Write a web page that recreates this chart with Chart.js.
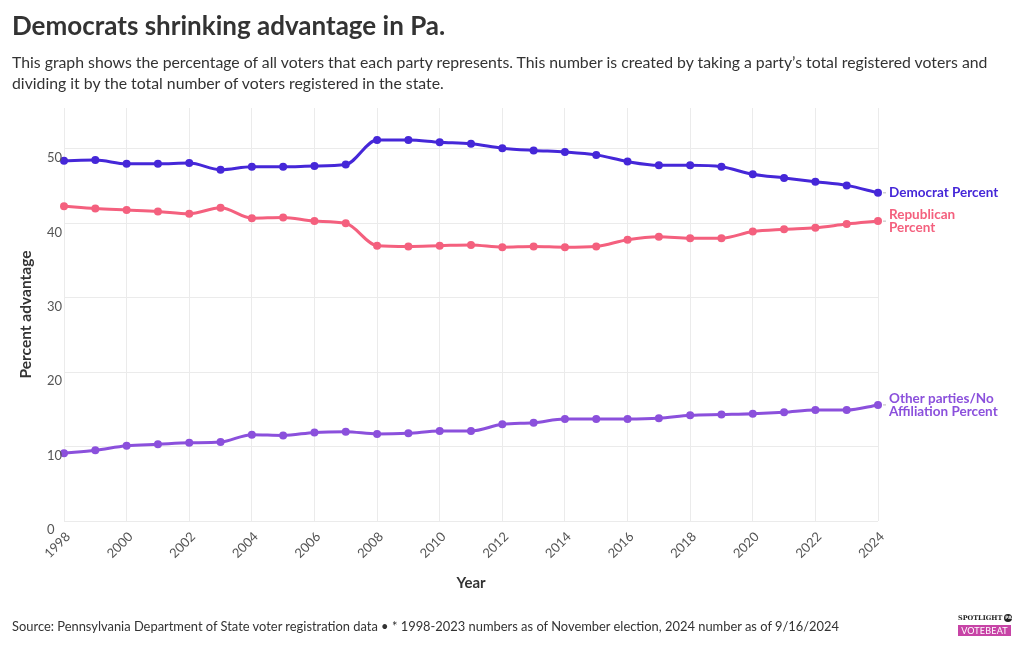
<!DOCTYPE html>
<html><head><meta charset="utf-8">
<script src="https://cdn.jsdelivr.net/npm/chart.js@4.4.1/dist/chart.umd.min.js"></script>
<style>
html,body{margin:0;padding:0;background:#fff;}
body{width:1020px;height:650px;position:relative;overflow:hidden;font-family:Lato,"Noto Sans",sans-serif;color:#333;}
#c{position:absolute;left:0;top:0;}
.t{position:absolute;left:12px;top:9px;font-size:26px;font-weight:700;color:#333;margin:0;white-space:nowrap;}
.s{position:absolute;left:12px;top:51px;font-size:15.8px;line-height:21px;color:#333;width:992px;}
.f{position:absolute;left:12px;top:618px;font-size:12.9px;color:#333;white-space:nowrap;}
.logo{position:absolute;left:958px;top:614px;width:53px;}
.logo .a{font-family:"DejaVu Serif",serif;font-weight:700;font-size:6.5px;color:#222;white-space:nowrap;line-height:9px;text-align:right;}
.logo .a span{display:inline-block;background:#222;color:#fff;border-radius:50%;font-size:4.5px;width:8px;height:8px;line-height:8px;text-align:center;vertical-align:middle;font-family:"DejaVu Sans",sans-serif;}
.logo .b{background:#c744a6;color:#fff;font-size:9px;line-height:11px;margin-top:2px;text-align:center;letter-spacing:0.2px;}
</style></head>
<body>
<canvas id="c" width="1020" height="650"></canvas>
<div class="t">Democrats shrinking advantage in Pa.</div>
<div class="s">This graph shows the percentage of all voters that each party represents. This number is created by taking a party’s total registered voters and dividing it by the total number of voters registered in the state.</div>
<div class="f">Source: Pennsylvania Department of State voter registration data • * 1998-2023 numbers as of November election, 2024 number as of 9/16/2024</div>
<div class="logo"><div class="a">SPOTLIGHT <span>PA</span></div><div class="b">VOTEBEAT</div></div>
<script>
const years = [1998,1999,2000,2001,2002,2003,2004,2005,2006,2007,2008,2009,2010,2011,2012,2013,2014,2015,2016,2017,2018,2019,2020,2021,2022,2023,2024];
const democrat = [48.4,48.5,48.0,48.0,48.1,47.2,47.6,47.6,47.7,47.9,51.2,51.2,50.9,50.7,50.1,49.8,49.6,49.2,48.3,47.8,47.8,47.6,46.6,46.1,45.6,45.1,44.1];
const republican = [42.3,42.0,41.8,41.6,41.3,42.1,40.7,40.8,40.3,40.0,37.0,36.9,37.0,37.1,36.8,36.9,36.8,36.9,37.8,38.2,38.0,38.0,38.9,39.2,39.4,39.9,40.3];
const other = [9.1,9.5,10.1,10.3,10.5,10.6,11.6,11.5,11.9,12.0,11.7,11.8,12.1,12.1,13.0,13.2,13.7,13.7,13.7,13.8,14.2,14.3,14.4,14.6,14.9,14.9,15.6];
const seriesNames = ["Democrat Percent","Republican Percent","Other parties/No Affiliation Percent"];
const seriesLabelLines = [["Democrat Percent"],["Republican","Percent"],["Other parties/No","Affiliation Percent"]];
const colors = ["#4527d8","#f4607e","#8b50dc"];
const yTicks = [0,10,20,30,40,50];

const FONT = "Lato, 'Noto Sans', sans-serif";
function mk(vals){return years.map((y,i)=>({x:y,y:vals[i]}));}
const allSeries=[democrat,republican,other];
const datasets = allSeries.map((v,i)=>({
  label:seriesNames[i], data:mk(v), borderColor:colors[i], backgroundColor:colors[i],
  borderWidth:3, pointRadius:4, pointHoverRadius:4, pointBorderWidth:0,
  cubicInterpolationMode:'monotone', clip:false
}));

const extras = {
  id:'extras',
  afterDraw(chart){
    const ctx=chart.ctx;
    ctx.save();
    // y tick labels, left aligned, below their gridline
    const ys=chart.scales.y;
    ctx.font="13px "+FONT; ctx.fillStyle='#555'; ctx.textAlign='left'; ctx.textBaseline='middle';
    yTicks.forEach(v=>{ ctx.fillText(String(v),47,ys.getPixelForValue(v)+9); });
    // end labels
    ctx.font = "700 13.5px "+FONT;
    chart.data.datasets.forEach((ds,i)=>{
      const meta=chart.getDatasetMeta(i);
      const p=meta.data[meta.data.length-1];
      const lines=seriesLabelLines[i];
      const lh=12.5;
      ctx.strokeStyle='#bbb'; ctx.lineWidth=1;
      ctx.beginPath(); ctx.moveTo(p.x+5,p.y); ctx.lineTo(p.x+8,p.y); ctx.stroke();
      ctx.fillStyle=colors[i];
      lines.forEach((l,j)=>{
        ctx.fillText(l,p.x+11,p.y+(j-(lines.length-1)/2)*lh);
      });
    });
    ctx.restore();
  }
};

new Chart(document.getElementById('c'),{
  type:'line',
  data:{datasets},
  plugins:[extras],
  options:{
    responsive:false, animation:false, devicePixelRatio:1,
    layout:{padding:{left:13,right:142,top:108,bottom:52}},
    plugins:{legend:{display:false},tooltip:{enabled:false}},
    scales:{
      x:{type:'linear',min:1998,max:2024,
        afterFit(s){s.height=77;},
        ticks:{stepSize:2,minRotation:45,maxRotation:45,padding:8,labelOffset:4,color:'#555',font:{family:FONT,size:13},callback:v=>String(v)},
        grid:{color:'#ebebeb',drawTicks:false},
        border:{display:false},
        title:{display:true,text:'Year',color:'#333',font:{family:FONT,size:15,weight:'700'},padding:{top:4,bottom:6}}
      },
      y:{min:0,max:55.5,
        afterFit(s){s.width=51;},
        afterBuildTicks(s){s.ticks=yTicks.map(v=>({value:v}));},
        ticks:{display:true,padding:4,color:'rgba(0,0,0,0)',font:{family:FONT,size:13}},
        grid:{color:'#ebebeb',drawTicks:false},
        border:{display:false},
        title:{display:true,text:'Percent advantage',color:'#333',font:{family:FONT,size:15.5,weight:'700'},padding:{top:4,bottom:4}}
      }
    }
  }
});
</script>
</body></html>
